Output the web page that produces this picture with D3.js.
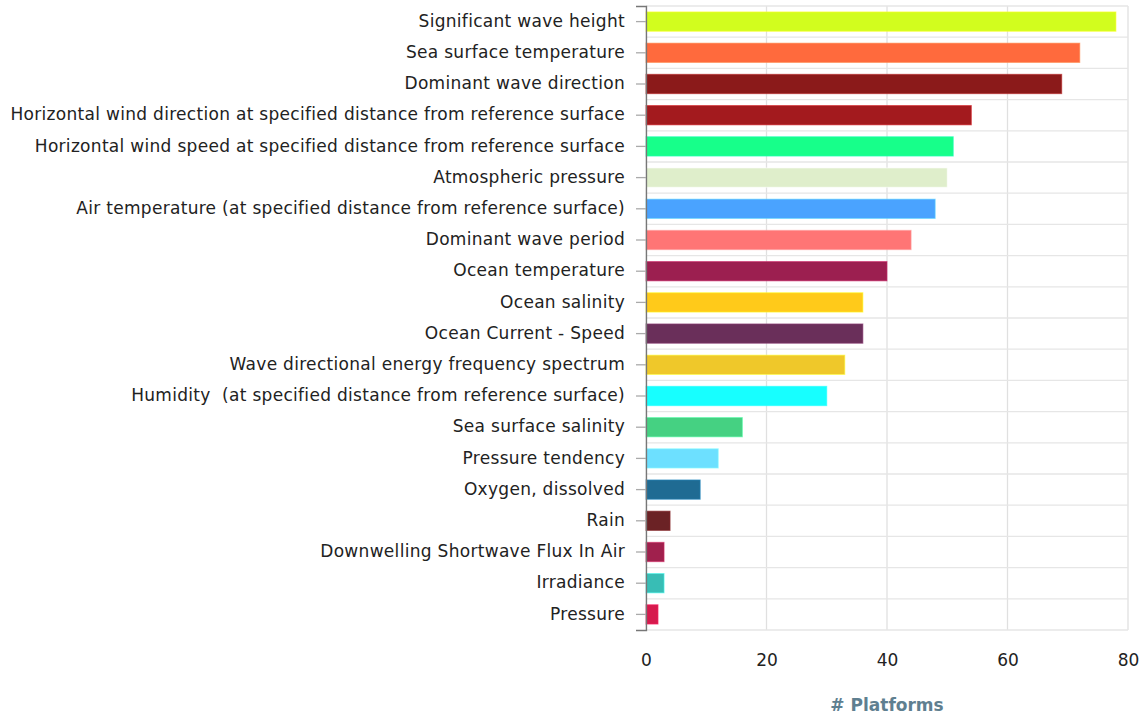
<!DOCTYPE html>
<html>
<head>
<meta charset="utf-8">
<script src="https://cdn.jsdelivr.net/npm/d3@7"></script>
<style>
  body { margin: 0; background: #fff; }
  text { font-family: "DejaVu Sans", Verdana, sans-serif; }
</style>
</head>
<body>
<svg id="chart" width="1144" height="715"></svg>
<script>
// parameters, top to bottom
var categories = [
  'Significant wave height',
  'Sea surface temperature',
  'Dominant wave direction',
  'Horizontal wind direction at specified distance from reference surface',
  'Horizontal wind speed at specified distance from reference surface',
  'Atmospheric pressure',
  'Air temperature (at specified distance from reference surface)',
  'Dominant wave period',
  'Ocean temperature',
  'Ocean salinity',
  'Ocean Current - Speed',
  'Wave directional energy frequency spectrum',
  'Humidity  (at specified distance from reference surface)',
  'Sea surface salinity',
  'Pressure tendency',
  'Oxygen, dissolved',
  'Rain',
  'Downwelling Shortwave Flux In Air',
  'Irradiance',
  'Pressure'
];
var platforms = [78, 72, 69, 54, 51, 50, 48, 44, 40, 36, 36, 33, 30, 16, 12, 9, 4, 3, 3, 2];
var barColors = [
  '#d2fd1e', '#ff6a3d', '#8b1a1a', '#a31a1e', '#17ff8a',
  '#dfeecb', '#4aa3ff', '#ff7575', '#9c1f50', '#ffca1a',
  '#6a2f5a', '#efc82a', '#17ffff', '#45d182', '#6de0ff',
  '#1f6b93', '#6b2225', '#a0204d', '#38bdb5', '#d61a4d'
];
var xTicks = [0, 20, 40, 60, 80];
var xTitle = '# Platforms';

var margin = {top: 6, right: 16, bottom: 85, left: 646},
  width = 1144 - margin.left - margin.right,
  height = 715 - margin.top - margin.bottom;

var svg = d3.select('#chart');
var g = svg.append('g')
  .attr('transform', 'translate(' + margin.left + ',' + margin.top + ')');

var x = d3.scaleLinear().domain([0, 80]).range([0, width]);
var y = d3.scaleBand().domain(categories).range([0, height]).paddingInner(0.38).paddingOuter(0.19);

// grid: vertical at ticks, horizontal at row boundaries
var step = y.step();
g.append('g').selectAll('line.v')
  .data(xTicks)
  .enter().append('line')
  .attr('x1', function(d) { return x(d); })
  .attr('x2', function(d) { return x(d); })
  .attr('y1', 0).attr('y2', height)
  .attr('stroke', '#e0e0e0').attr('stroke-width', 1.3);

g.append('g').selectAll('line.h')
  .data(d3.range(categories.length + 1))
  .enter().append('line')
  .attr('x1', 0).attr('x2', width)
  .attr('y1', function(i) { return i * step; })
  .attr('y2', function(i) { return i * step; })
  .attr('stroke', '#e6e6e6').attr('stroke-width', 1.3);

// bars
g.append('g').selectAll('rect')
  .data(platforms)
  .enter().append('rect')
  .attr('x', x(0))
  .attr('y', function(d, i) { return y(categories[i]); })
  .attr('width', function(d) { return x(d) - x(0); })
  .attr('height', y.bandwidth())
  .attr('fill', function(d, i) { return barColors[i]; })
  .attr('stroke', function(d, i) { return d3.color(barColors[i]).brighter(0.8); })
  .attr('stroke-opacity', 0.6)
  .attr('stroke-width', 1);

// y axis
var yAxis = g.append('g')
  .call(d3.axisLeft(y).tickSize(10).tickPadding(11));
yAxis.select('.domain').attr('stroke', '#777').attr('stroke-width', 1.3);
yAxis.selectAll('.tick line').attr('stroke', '#aaa').attr('stroke-width', 1.3);
yAxis.selectAll('.tick text')
  .attr('fill', '#222')
  .attr('dy', '0.3em')
  .style('white-space', 'pre')
  .style('font-size', '17px')
  .style('letter-spacing', '0.3px');

// x axis (labels only)
var xAxis = g.append('g')
  .attr('transform', 'translate(0,' + height + ')')
  .call(d3.axisBottom(x).tickValues(xTicks).tickSize(0).tickPadding(24));
xAxis.select('.domain').remove();
xAxis.selectAll('.tick text')
  .attr('fill', '#222')
  .style('font-size', '17px');

svg.append('text')
  .attr('x', margin.left + x(40))
  .attr('y', 711)
  .attr('text-anchor', 'middle')
  .attr('fill', '#5f7f90')
  .style('font-size', '17px')
  .style('font-weight', 'bold')
  .text(xTitle);
</script>
</body>
</html>
